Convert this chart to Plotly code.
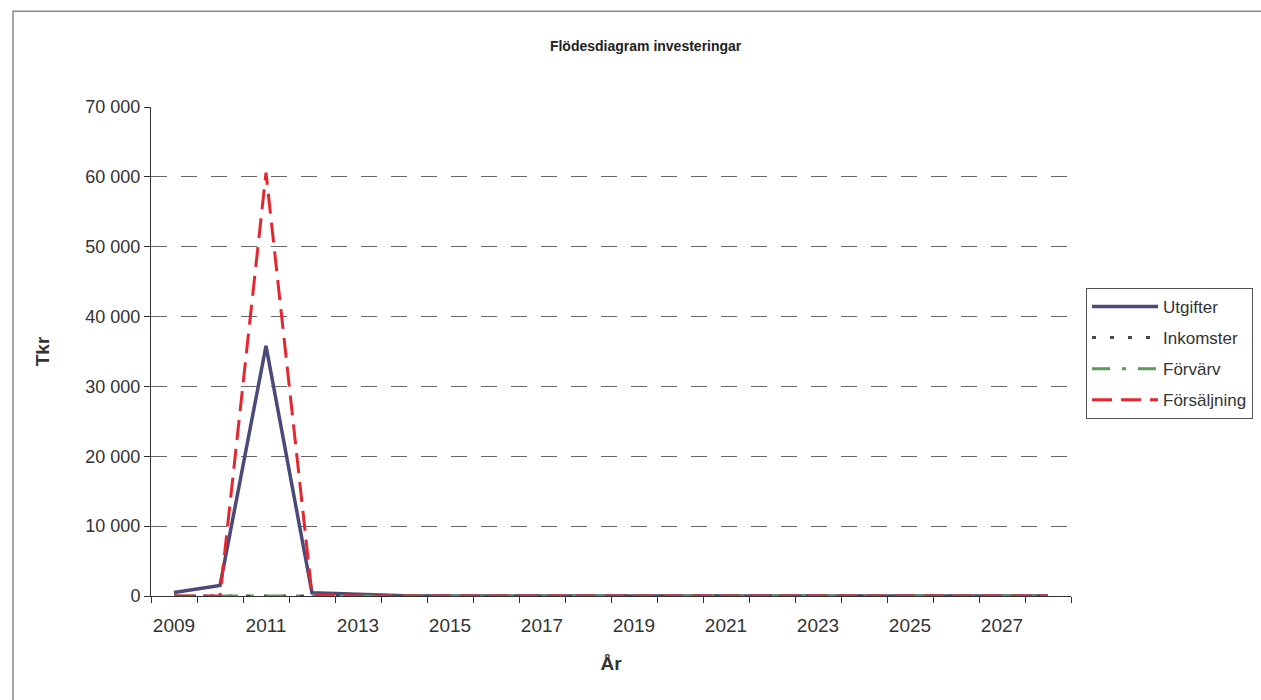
import plotly.graph_objects as go

years = list(range(2009, 2029))
utgifter = [500, 1500, 35800, 450, 250, 50] + [0] * 14
inkomster = [0] * 20
forvarv = [0] * 20
forsaljning = [0, 0, 60600, 200, 0] + [0] * 15

x_tick_vals = list(range(2009, 2029, 2))
x_tick_text = [str(v) for v in x_tick_vals]
y_tick_vals = list(range(0, 70001, 10000))

FONT = "Liberation Sans, Arial, sans-serif"

fig = go.Figure()
fig.add_trace(go.Scatter(x=years, y=utgifter, name="Utgifter", mode="lines", legendgroup="a",
                         line=dict(color="#4a4a7a", width=3.5)))
fig.add_trace(go.Scatter(x=years, y=inkomster, name="Inkomster", mode="lines", legendgroup="b",
                         line=dict(color="#4a4a4a", width=3, dash="4px,14px")))
fig.add_trace(go.Scatter(x=years, y=forvarv, name="Förvärv", mode="lines", legendgroup="c",
                         line=dict(color="#5a9a5a", width=3, dash="18px,12px,4px,12px")))
fig.add_trace(go.Scatter(x=years, y=forsaljning, name="Försäljning", mode="lines", legendgroup="d",
                         line=dict(color="#e6262e", width=3, dash="20px,9px")))

# outer chart frame
fig.add_shape(type="rect", xref="paper", yref="paper",
              x0=-0.15, x1=1.35, y0=-0.25, y1=1.196,
              line=dict(color="#8a8a8a", width=1.5), fillcolor="rgba(0,0,0,0)", layer="below")

fig.update_layout(
    width=1261, height=700,
    margin=dict(l=151, r=190, t=107, b=104, autoexpand=False),
    paper_bgcolor="white", plot_bgcolor="white",
    separators=", ",
    font=dict(family=FONT, color="#333333"),
    title=dict(text="<b>Flödesdiagram investeringar</b>", x=0.512, xref="container",
               xanchor="center", y=0.934, yref="container", yanchor="middle",
               font=dict(size=14, color="#222222", family=FONT)),
    showlegend=True,
    legend=dict(x=1.0163, y=0.63, xanchor="left", yanchor="top",
                bordercolor="#555555", borderwidth=1, bgcolor="white",
                font=dict(size=17, color="#333333", family=FONT),
                traceorder="grouped", itemwidth=66, tracegroupgap=6),
    xaxis=dict(range=[2008.5, 2028.5], showgrid=False, zeroline=False,
               tickmode="array", tickvals=x_tick_vals, ticktext=x_tick_text,
               ticks="", showline=True, linecolor="#333333", linewidth=1,
               ticklabelstandoff=12,
               tickfont=dict(size=19, color="#333333"),
               minor=dict(tickvals=[y + 0.5 for y in range(2008, 2029)], ticks="outside",
                          ticklen=6, tickcolor="#333333", showgrid=False),
               title=dict(text="<b>År</b>", font=dict(size=19, color="#333333"), standoff=21)),
    yaxis=dict(range=[0, 70000], tickmode="array", tickvals=y_tick_vals,
               tickformat=",.0f", showline=True, linecolor="#333333", linewidth=1,
               ticks="outside", ticklen=6, tickcolor="#333333",
               showgrid=True, gridcolor="#666666", gridwidth=1, griddash="16px,14px",
               zeroline=False, tickfont=dict(size=18, color="#333333"),
               title=dict(text="<b>Tkr</b>", font=dict(size=19, color="#333333"), standoff=30)),
)

fig.write_html("out.html")
